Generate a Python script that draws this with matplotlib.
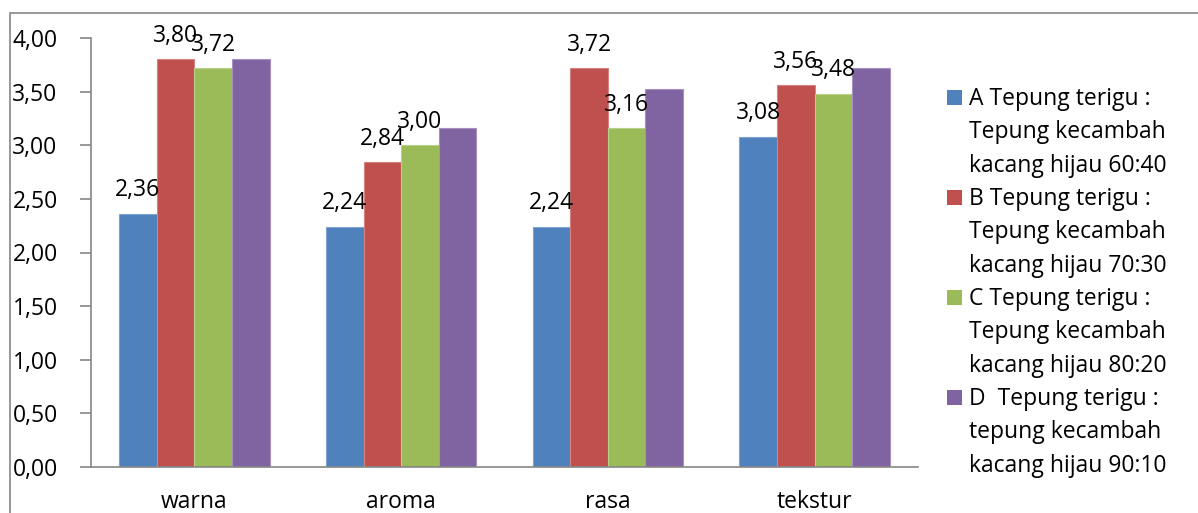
import matplotlib
matplotlib.use("Agg")
import matplotlib.pyplot as plt
from matplotlib.patches import Rectangle
import numpy as np

plt.rcParams['font.family'] = ['Open Sans', 'DejaVu Sans']

categories = ["warna", "aroma", "rasa", "tekstur"]
series_names = [
    "A Tepung terigu :\nTepung kecambah\nkacang hijau 60:40",
    "B Tepung terigu :\nTepung kecambah\nkacang hijau 70:30",
    "C Tepung terigu :\nTepung kecambah\nkacang hijau 80:20",
    "D  Tepung terigu :\ntepung kecambah\nkacang hijau 90:10",
]
values_a = [2.36, 2.24, 2.24, 3.08]
values_b = [3.80, 2.84, 3.72, 3.56]
values_c = [3.72, 3.00, 3.16, 3.48]
values_d = [3.80, 3.16, 3.52, 3.72]
yticks = [0.0, 0.5, 1.0, 1.5, 2.0, 2.5, 3.0, 3.5, 4.0]

series = [values_a, values_b, values_c, values_d]
labelled = [True, True, True, False]
colors = ["#4F81BD", "#C0504D", "#9BBB59", "#8064A2"]
edges = ["#7FA3D1", "#D48381", "#B8D08A", "#A590BF"]

FS = 16.5
W, H = 1198, 513
fig = plt.figure(figsize=(W / 100, H / 100), dpi=100)


def fx(px):
    return px / W


def fy(py):
    return 1 - py / H


# outer chart frame
fig.patches.append(Rectangle((fx(10), -0.1), 1.2, fy(13) + 0.1,
                             transform=fig.transFigure, fill=False,
                             edgecolor="#868686", linewidth=1.2))

ax = fig.add_axes([fx(91), fy(467), fx(918 - 91), (467 - 38) / H])

x = np.arange(len(categories))
bw = 1 / 5.5
for i, (vals, col, ec, lab) in enumerate(zip(series, colors, edges, labelled)):
    pos = x + (i - 1.5) * bw
    ax.bar(pos, vals, width=bw, color=col, edgecolor=ec, linewidth=0.8,
           label=series_names[i])
    if lab:
        for xp, v in zip(pos, vals):
            ax.annotate(f"{v:.2f}".replace(".", ","), (xp, v), xytext=(0, 12.6),
                        textcoords="offset points", ha="center", va="baseline",
                        fontsize=FS, color="black")

ax.set_xlim(-0.5, len(categories) - 0.5)
ax.set_ylim(0, 4.0)
ax.set_yticks(yticks)
ax.set_yticklabels([f"{t:.2f}".replace(".", ",") for t in yticks], fontsize=FS)
ax.set_xticks(x)
ax.set_xticklabels(categories, fontsize=FS)
ax.tick_params(axis="x", length=0, pad=16.5)
ax.tick_params(axis="y", length=8, width=1.2, color="#868686", pad=16)
for s in ["top", "right"]:
    ax.spines[s].set_visible(False)
for s in ["left", "bottom"]:
    ax.spines[s].set_color("#868686")
    ax.spines[s].set_linewidth(1.2)

# legend: square key beside the first line of each three-line entry
line_step = 33.3
entry_step = 100
first_base = 105
for i, (name, col) in enumerate(zip(series_names, colors)):
    base = first_base + i * entry_step
    fig.patches.append(Rectangle((fx(947), fy(base)), fx(15), 15 / H,
                                 transform=fig.transFigure, facecolor=col,
                                 edgecolor="none"))
    for j, line in enumerate(name.split("\n")):
        fig.text(fx(969), fy(base + j * line_step), line, fontsize=FS,
                 ha="left", va="baseline", color="black")

fig.savefig("out.png", dpi=100)
